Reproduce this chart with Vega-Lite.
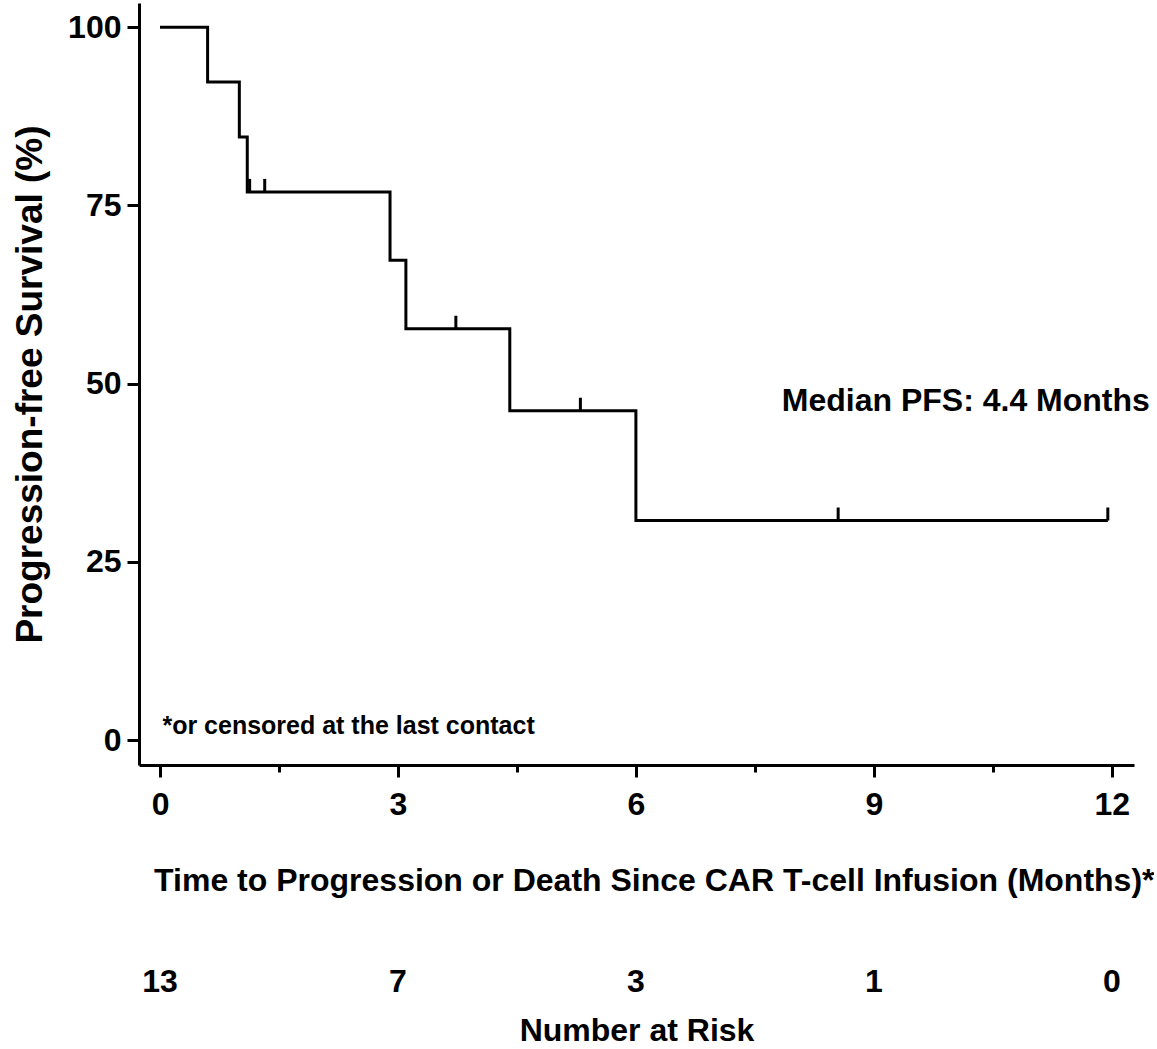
{
  "$schema": "https://vega.github.io/schema/vega-lite/v6.json",
  "padding": {"left": 11, "top": 3, "right": 0, "bottom": 0},
  "background": "white",
  "config": {
    "font": "Liberation Sans",
    "view": {"stroke": null},
    "axis": {"labelFont": "Liberation Sans", "titleFont": "Liberation Sans", "labelColor": "black", "titleColor": "black", "domainColor": "black", "tickColor": "black"}
  },
  "datasets": {
    "curve": [
      {"time": 0, "surv": 100},
      {"time": 0.6, "surv": 92.3},
      {"time": 1.0, "surv": 84.6},
      {"time": 1.1, "surv": 76.9},
      {"time": 2.9, "surv": 67.3},
      {"time": 3.1, "surv": 57.7},
      {"time": 4.41, "surv": 46.2},
      {"time": 6.0, "surv": 30.8},
      {"time": 11.95, "surv": 30.8}
    ],
    "censor": [
      {"time": 1.13, "surv": 76.9},
      {"time": 1.32, "surv": 76.9},
      {"time": 3.73, "surv": 57.7},
      {"time": 5.3, "surv": 46.2},
      {"time": 8.55, "surv": 30.8},
      {"time": 11.95, "surv": 30.8}
    ],
    "risk": [
      {"time": 0, "n": 13},
      {"time": 3, "n": 7},
      {"time": 6, "n": 3},
      {"time": 9, "n": 1},
      {"time": 12, "n": 0}
    ],
    "notes": [
      {"label": "Median PFS: 4.4 Months", "time": 12.48, "surv": 47.5, "kind": "median"},
      {"label": "*or censored at the last contact", "time": 0.03, "surv": 2.0, "kind": "foot"}
    ]
  },
  "vconcat": [
    {
      "width": 995,
      "height": 762,
      "encoding": {
        "x": {
          "field": "time", "type": "quantitative",
          "scale": {"domain": [-0.265, 12.28], "nice": false, "zero": false},
          "axis": {
            "values": [0, 1.5, 3, 4.5, 6, 7.5, 9, 10.5, 12],
            "labelExpr": "datum.value % 3 === 0 ? datum.label : ''",
            "title": "Time to Progression or Death Since CAR T-cell Infusion (Months)*",
            "grid": false,
            "domainWidth": 3, "tickWidth": 3,
            "tickSize": {"condition": {"test": "datum.value % 3 === 0", "value": 12}, "value": 7},
            "labelFontSize": 32, "labelFontWeight": "bold", "labelPadding": 12,
            "labelFlush": false, "labelOverlap": false,
            "titleFontSize": 32, "titleFontWeight": "bold", "titlePadding": 45,
            "titleX": 1015, "titleAnchor": "end", "titleAlign": "right"
          }
        },
        "y": {
          "field": "surv", "type": "quantitative",
          "scale": {"domain": [-3.5, 103.4], "nice": false, "zero": false},
          "axis": {
            "values": [0, 25, 50, 75, 100],
            "title": "Progression-free Survival (%)",
            "grid": false,
            "domainWidth": 3, "tickWidth": 3, "tickSize": 12,
            "labelFontSize": 32, "labelFontWeight": "bold", "labelPadding": 6,
            "labelFlush": false, "labelOverlap": false,
            "titleFontSize": 37, "titleFontWeight": "bold", "titlePadding": 18
          }
        }
      },
      "layer": [
        {
          "data": {"name": "curve"},
          "mark": {"type": "line", "interpolate": "step-after", "color": "black", "strokeWidth": 3}
        },
        {
          "data": {"name": "censor"},
          "mark": {"type": "rule", "color": "black", "strokeWidth": 3, "y2Offset": -13},
          "encoding": {"y2": {"field": "surv"}}
        },
        {
          "data": {"name": "notes"},
          "transform": [{"filter": "datum.kind === 'median'"}],
          "mark": {"type": "text", "align": "right", "baseline": "middle", "fontSize": 32, "fontWeight": "bold", "color": "black", "clip": false},
          "encoding": {"text": {"field": "label"}}
        },
        {
          "data": {"name": "notes"},
          "transform": [{"filter": "datum.kind === 'foot'"}],
          "mark": {"type": "text", "align": "left", "baseline": "middle", "fontSize": 25, "fontWeight": "bold", "color": "black"},
          "encoding": {"text": {"field": "label"}}
        }
      ]
    },
    {
      "width": 995,
      "height": 50,
      "data": {"name": "risk"},
      "mark": {"type": "text", "fontSize": 32, "fontWeight": "bold", "color": "black", "baseline": "middle", "clip": false},
      "encoding": {
        "x": {
          "field": "time", "type": "quantitative",
          "scale": {"domain": [-0.265, 12.28], "nice": false, "zero": false},
          "axis": {"title": "Number at Risk", "domain": false, "ticks": false, "labels": false, "grid": false, "titleFontSize": 32, "titleFontWeight": "bold", "titlePadding": 8}
        },
        "text": {"field": "n"}
      }
    }
  ],
  "spacing": 61
}
